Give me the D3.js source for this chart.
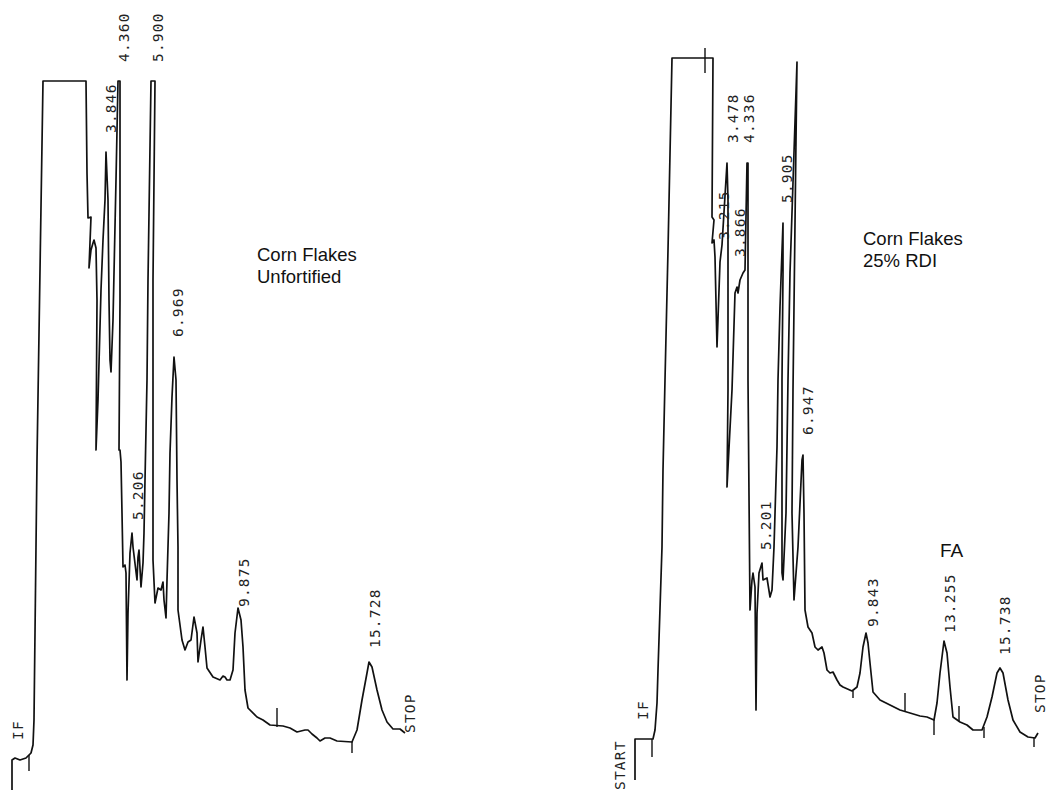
<!DOCTYPE html>
<html><head><meta charset="utf-8">
<script src="https://d3js.org/d3.v7.min.js"></script>
<style>body{margin:0;background:#fff;}</style>
</head><body>
<svg id="chrom"></svg>
<script>
// chromatogram traces, [chart position, detector response]
var unfortified=[[12,10],[12,40],[15,42],[20,40],[26,42],[31,47],[33,55],[34,80],[37,340],[43,719],[86,719],
  [87,627],[88,582],[91,583],[89,532],[91,550],[93,557],[94,560],[96,552],[97,500],[96,350],[98,400],[101,510],
  [103,560],[105,600],[106,648],[108,600],[109,500],[110,440],[111,428],[113,480],[116,620],[118,719],[120,719],
  [120,500],[119,350],[120,350],[121,338],[122,287],[123,233],[125,235],[126,227],[127,120],[128,187],[130,247],
  [132,267],[133,253],[137,220],[138,243],[139,250],[141,213],[143,237],[144,267],[145,320],[147,420],[148,520],
  [151,719],[155,719],[153,520],[153,240],[155,197],[157,207],[158,212],[161,210],[163,218],[164,200],[166,182],
  [167,220],[169,287],[170,347],[172,403],[174,443],[176,420],[177,320],[178,253],[178,190],[182,160],[185,150],
  [188,158],[191,160],[194,183],[197,167],[198,138],[201,160],[203,173],[205,153],[207,132],[213,123],[220,120],
  [223,124],[225,123],[227,120],[230,120],[233,130],[235,167],[238,192],[241,180],[243,153],[245,110],[248,92],
  [257,83],[263,80],[270,75],[283,74],[290,72],[297,68],[305,70],[308,70],[312,66],[317,62],[320,59],[325,62],
  [330,62],[337,59],[352,58],[357,70],[362,100],[367,127],[369,138],[372,133],[377,110],[382,90],[387,78],
  [393,71],[400,71],[405,67]];
var fortified=[[635,20],[635,61],[653,61],[655,70],[657,97],[658,130],[662,253],[663,330],[665,420],[668,550],
  [672,742],[713,742],[712,583],[714,580],[712,557],[714,560],[715,543],[717,453],[720,538],[722,555],[727,637],
  [728,600],[728,410],[727,313],[732,410],[735,507],[737,513],[738,507],[740,520],[743,527],[745,530],[747,637],
  [748,637],[748,420],[750,190],[752,220],[753,227],[755,213],[756,90],[757,187],[759,227],[762,237],[763,220],
  [767,222],[770,203],[772,210],[774,253],[777,353],[778,420],[780,493],[783,577],[783,527],[782,420],[782,227],
  [783,220],[786,287],[788,420],[790,527],[797,738],[796,660],[793,410],[792,287],[794,200],[798,253],[802,340],
  [803,345],[804,287],[805,190],[808,173],[812,167],[815,153],[818,150],[822,153],[824,147],[827,130],[830,127],
  [833,128],[837,120],[840,115],[843,113],[852,109],[857,113],[860,127],[863,153],[866,167],[868,157],[870,137],
  [873,108],[880,100],[890,95],[900,90],[910,87],[920,84],[927,83],[934,80],[937,97],[940,127],[944,159],[947,147],
  [950,113],[953,83],[960,78],[967,75],[973,70],[982,70],[987,83],[992,103],[997,127],[1000,132],[1003,127],
  [1008,100],[1013,80],[1020,68],[1028,63],[1035,62],[1038,67]];
// integrator tick marks [position, from, to]
var ticks=[[29,45,29],[277,92,73],[352,58,47],
  [652,61,43],[705,752,727],[853,109,102],[905,107,88],[934,80,65],[959,94,79],[984,73,62],[1034,62,53]];
// peak labels (retention time) and event marks
var peakLabels=['4.360','5.900','3.846','6.969','5.206','9.875','15.728','STOP','IF',
  '3.478','4.336','3.215','3.866','5.905','6.947','5.201','9.843','13.255','15.738','STOP','START','IF'];
var labelAt=[[124,738],[158,738],[111,667],[178,463],[138,280],[244,193],[375,152],[410,67],[18,60],
  [733,657],[749,657],[724,560],[740,543],[787,597],[808,365],[766,250],[873,173],[950,167],[1005,145],
  [1040,87],[620,10],[643,80]];

var W=1048,H=793;
var svg=d3.select('#chrom').attr('width',W).attr('height',H).style('background','#fff');
var x=d3.scaleLinear().domain([0,1048]).range([0,1048]),
    y=d3.scaleLinear().domain([0,800]).range([800,0]);
var line=d3.line().x(function(d){return x(d[0]);}).y(function(d){return y(d[1]);});

[unfortified,fortified].forEach(function(tr){
  svg.append('path').datum(tr).attr('d',line).attr('fill','none')
     .attr('stroke','#111').attr('stroke-width',1.7).attr('stroke-linejoin','round');
});
svg.selectAll('line.tick').data(ticks).enter().append('line').attr('class','tick')
   .attr('x1',function(d){return x(d[0]);}).attr('x2',function(d){return x(d[0]);})
   .attr('y1',function(d){return y(d[1]);}).attr('y2',function(d){return y(d[2]);})
   .attr('stroke','#111').attr('stroke-width',1.4);

svg.selectAll('text.rt').data(peakLabels).enter().append('text').attr('class','rt')
   .attr('transform',function(d,i){return 'translate('+x(labelAt[i][0])+','+y(labelAt[i][1])+') rotate(-90)';})
   .attr('dy','0.36em')
   .style('font-family','"DejaVu Sans Mono", monospace').style('font-size','14.5px')
   .style('letter-spacing','1.2px').attr('fill','#222')
   .text(function(d){return d;});

var cap=svg.append('g').style('font-family','"Liberation Sans", Arial, sans-serif')
   .style('font-size','18.5px').attr('fill','#111');
cap.append('text').attr('x',257).attr('y',261).text('Corn Flakes');
cap.append('text').attr('x',257).attr('y',283).text('Unfortified');
cap.append('text').attr('x',863).attr('y',245).text('Corn Flakes');
cap.append('text').attr('x',863).attr('y',267).text('25% RDI');
cap.append('text').attr('x',940).attr('y',557).style('font-size','19px').text('FA');
</script>
</body></html>
